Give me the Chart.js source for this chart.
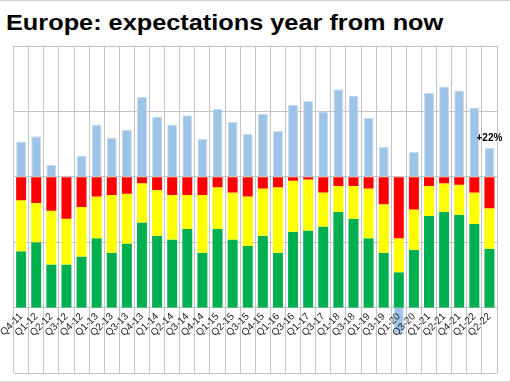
<!DOCTYPE html>
<html>
<head>
<meta charset="utf-8">
<script src="https://cdn.jsdelivr.net/npm/chart.js@4/dist/chart.umd.min.js"></script>
<style>
  html, body { margin: 0; padding: 0; background: #fff; }
  body { width: 510px; height: 382px; position: relative; overflow: hidden; }
  #frameTop { position: absolute; left: 0; top: 0; width: 510px; height: 1px; background: #d0d0d0; }
  #frameBottom { position: absolute; left: 0; top: 381px; width: 510px; height: 1px; background: #d0d0d0; }
  #title { position: absolute; left: 6px; top: 12px; font: bold 22px "Liberation Sans", Arial, sans-serif; line-height: 22px; color: #000; white-space: nowrap; transform: scaleX(1.15); transform-origin: left top; }
  #wrap { position: absolute; left: -1px; top: 0; width: 511px; height: 382px; }
</style>
</head>
<body>
<div id="frameTop"></div>
<div id="title">Europe: expectations year from now</div>
<div id="wrap"><canvas id="myChart"></canvas></div>
<div id="frameBottom"></div>
<script>
// trimestres / semestres
const labels = ['Q4-11', 'Q1-12', 'Q2-12', 'Q3-12', 'Q4-12', 'Q1-13', 'Q2-13', 'Q3-13', 'Q4-13',
    'Q1-14', 'Q2-14', 'Q3-14', 'Q4-14', 'Q1-15', 'Q2-15', 'Q3-15', 'Q4-15',
    'Q1-16', 'Q3-16', 'Q1-17', 'Q3-17', 'Q1-18', 'Q3-18', 'Q1-19', 'Q3-19', 'Q1-20', 'Q3-20',
    'Q1-21', 'Q2-21', 'Q4-21', 'Q1-22', 'Q2-22'];

// saldo (melhor - pior), em %
const net = [27, 31, 9, 1, 16, 40, 30, 36, 61, 46, 40, 47, 29, 52, 42, 33, 48,
    35, 55, 58, 50, 67, 62, 45, 23, -20, 19, 64, 69, 66, 53, 22];
// pior
const worse = [18, 20, 26, 32, 23, 15, 14, 13, 5, 10, 14, 14, 14, 8, 12, 15, 9,
    8, 3, 2, 12, 7, 7, 9, 21, 47, 25, 7, 5, 6, 12, 24];
// igual
const same = [39, 30, 41, 35, 38, 32, 44, 38, 30, 35, 34, 26, 44, 32, 36, 38, 36,
    50, 39, 39, 26, 20, 25, 38, 37, 26, 31, 23, 22, 23, 24, 31];
// melhor
const better = [43, 50, 33, 33, 39, 53, 42, 49, 65, 55, 52, 60, 42, 60, 52, 47, 55,
    42, 58, 59, 62, 73, 68, 53, 42, 27, 44, 70, 73, 71, 64, 45];

const yTicks = [-150, -100, -50, 0, 50, 100];

const neg = arr => arr.map(v => -v);

// rótulo "+22%" em cima da última barra
const lastLabel = {
    id: 'lastLabel',
    afterDatasetsDraw(chart) {
        const meta = chart.getDatasetMeta(3);
        const bar = meta.data[meta.data.length - 1];
        const v = net[net.length - 1];
        const c = chart.ctx;
        c.save();
        c.font = 'bold 10px "Liberation Sans", Arial, sans-serif';
        c.fillStyle = '#000';
        c.textAlign = 'center';
        c.textBaseline = 'bottom';
        c.fillText((v > 0 ? '+' : '') + v + '%', bar.x, bar.y - 5);
        c.restore();
    }
};

const ctx = document.getElementById('myChart').getContext('2d');
const myChart = new Chart(ctx, {
    type: 'bar',
    data: {
        labels: labels,
        datasets: [
            { label: 'Pior', data: neg(worse), backgroundColor: '#FF0000' },
            { label: 'Igual', data: neg(same), backgroundColor: '#FFFF00' },
            { label: 'Melhor', data: neg(better), backgroundColor: '#00B050' },
            { label: 'Saldo', data: net, backgroundColor: '#9DC3E6', borderColor: '#C6DCF0', borderWidth: 1 }
        ]
    },
    options: {
        responsive: true,
        maintainAspectRatio: false,
        animation: false,
        layout: { padding: { top: 46, bottom: 9, left: 0, right: 13 } },
        datasets: { bar: { categoryPercentage: 1, barPercentage: 0.66 } },
        plugins: { legend: { display: false }, tooltip: { enabled: false } },
        scales: {
            x: {
                stacked: true,
                position: { y: -100 },
                grid: { color: '#C4C4C4', drawTicks: false, offset: true },
                border: { color: '#C4C4C4' },
                ticks: {
                    autoSkip: false,
                    minRotation: 45,
                    maxRotation: 45,
                    padding: 3,
                    z: 1,
                    color: '#222',
                    font: { family: '"Liberation Sans", Arial, sans-serif', size: 10 }
                }
            },
            y: {
                stacked: true,
                min: -150,
                max: 100,
                afterBuildTicks: axis => { axis.ticks = yTicks.map(v => ({ value: v })); },
                grid: { color: '#C4C4C4', drawTicks: false },
                border: { display: false },
                ticks: { display: false }
            }
        }
    },
    plugins: [lastLabel]
});
</script>
</body>
</html>
